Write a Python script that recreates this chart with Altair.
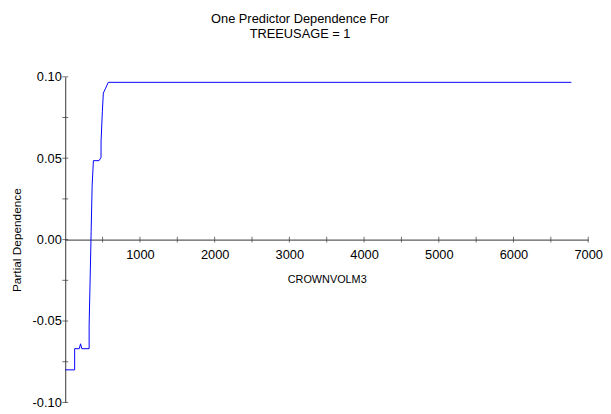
import altair as alt
import pandas as pd

# Partial dependence curve
crownvol = [0, 126, 126, 188, 205, 222, 320, 320, 334, 347, 360, 377, 453, 479, 480, 497, 510, 541, 576, 6775]
partial_dep = [-0.080, -0.080, -0.067, -0.067, -0.064, -0.067, -0.067, -0.0525, -0.023, 0.005, 0.033,
               0.0485, 0.0485, 0.0505, 0.0606, 0.0788, 0.090, 0.093, 0.0966, 0.0966]

x_label_values = [1000, 2000, 3000, 4000, 5000, 6000, 7000]
y_label_values = [-0.10, -0.05, 0.0, 0.05, 0.10]
x_tick_values = [500, 1000, 1500, 2000, 2500, 3000, 3500, 4000, 4500, 5000, 5500, 6000, 6500, 7000]
y_tick_values = [-0.10, -0.075, -0.05, -0.025, 0.0, 0.025, 0.05, 0.075, 0.10]

FONT = "Liberation Sans"
AX = "#333333"
W, H = 530, 330

df = pd.DataFrame({"x": crownvol, "y": partial_dep, "i": list(range(len(crownvol)))})

xscale = alt.Scale(domain=[0, 7000], nice=False, zero=False)
yscale = alt.Scale(domain=[-0.1, 0.1], nice=False, zero=False)

xaxis = alt.Axis(
    values=x_label_values, format="d", offset=-H / 2, ticks=False, tickSize=0, grid=False,
    domainColor=AX, domainWidth=1, labelPadding=9, labelFontSize=13, labelFont=FONT,
    labelColor="#000000", labelFlush=False, labelOverlap=False,
    title="CROWNVOLM3", titleFont=FONT, titleFontSize=11, titleFontWeight="normal",
    titleColor="#000000", titleX=W / 2, titleY=40, titleBaseline="middle", titleAlign="center")
yaxis = alt.Axis(
    values=y_label_values, ticks=False, tickSize=0, grid=False,
    labelExpr="replace(format(datum.value, '.2f'), '\u2212', '-')",
    domainColor=AX, domainWidth=1, labelPadding=4, labelFontSize=13, labelFont=FONT,
    labelColor="#000000", labelOverlap=False, labelFlush=False,
    title="Partial Dependence", titleFont=FONT, titleFontSize=12, titleFontWeight="normal",
    titleColor="#000000", titleX=-49, titleY=H / 2, titleAngle=-90,
    titleAlign="center", titleBaseline="middle")

line = alt.Chart(df).mark_line(color="#0000ff", strokeWidth=1).encode(
    x=alt.X("x:Q", scale=xscale, axis=xaxis, title="CROWNVOLM3"),
    y=alt.Y("y:Q", scale=yscale, axis=yaxis, title="Partial Dependence"),
    order="i:Q",
)

xticks = alt.Chart(pd.DataFrame({"v": x_tick_values})).mark_tick(
    orient="vertical", size=6, thickness=1, color=AX
).encode(
    x=alt.X("v:Q", scale=xscale, axis=xaxis, title="CROWNVOLM3"),
    y=alt.YDatum(0, type="quantitative", scale=yscale, axis=yaxis, title="Partial Dependence"),
)

yticks = alt.Chart(pd.DataFrame({"v": y_tick_values})).mark_tick(
    orient="horizontal", size=6, thickness=1, color=AX
).encode(
    y=alt.Y("v:Q", scale=yscale, axis=yaxis, title="Partial Dependence"),
    x=alt.XDatum(0, type="quantitative", scale=xscale, axis=xaxis, title="CROWNVOLM3"),
)

chart = alt.layer(line, xticks, yticks).properties(
    width=W,
    height=H,
    autosize=alt.AutoSizeParams(type="none"),
    padding={"left": 58, "top": 67, "right": 15, "bottom": 8},
    background="white",
    title=alt.Title(
        ["One Predictor Dependence For", "TREEUSAGE = 1"],
        font=FONT, fontSize=13, fontWeight="normal", color="#000000",
        anchor="middle", frame="group", dx=-27, offset=30, lineHeight=16,
    ),
).configure_view(stroke=None)

chart.save("out.html", embed_options={"renderer": "svg", "actions": False})
